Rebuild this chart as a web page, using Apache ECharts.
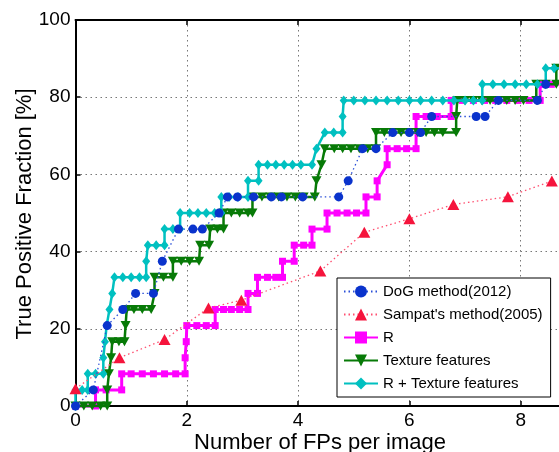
<!DOCTYPE html>
<html>
<head>
<meta charset="utf-8">
<script src="https://cdn.jsdelivr.net/npm/echarts@6/dist/echarts.min.js"></script>
<style>
html,body{margin:0;padding:0;background:#fff;}
#chart{width:559px;height:452px;}
</style>
</head>
<body>
<div id="chart"></div>
<script>
// ---- data ----
const xTicks = [0, 2, 4, 6, 8];
const yTicks = [0, 20, 40, 60, 80, 100];
const seriesNames = ['DoG method(2012)', "Sampat's method(2005)", 'R', 'Texture features', 'R + Texture features'];

const dogPoints = [[0,0],[0.32,4.17],[0.57,20.83],[0.85,25],[1.08,29.17],[1.4,29.17],[1.56,37.5],[1.85,45.83],[2.11,45.83],[2.28,45.83],[2.58,50],[2.73,54.17],[2.91,54.17],[3.2,54.17],[3.52,54.17],[3.7,54.17],[4.08,54.17],[4.73,54.17],[4.9,58.33],[5.16,66.67],[5.4,66.67],[5.7,70.83],[6.0,70.83],[6.2,70.83],[6.4,75],[7.2,75],[7.36,75],[7.6,79.17],[8.3,79.17],[8.45,83.33]];

const sampatPoints = [[0,4.5],[0.79,12.5],[1.6,17.2],[2.39,25.4],[2.98,27.4],[4.4,35],[5.19,45],[6,48.5],[6.79,52.2],[7.77,54.2],[8.56,58.3]];

const rPoints = [[0,0],[0.36,0],[0.36,4.17],[0.55,4.17],[0.83,4.17],[0.83,8.33],[1.0,8.33],[1.2,8.33],[1.4,8.33],[1.6,8.33],[1.8,8.33],[1.97,8.33],[1.97,12.5],[1.99,16.67],[2.0,20.83],[2.18,20.83],[2.35,20.83],[2.51,20.83],[2.51,25],[2.66,25],[2.8,25],[2.95,25],[3.1,25],[3.1,29.17],[3.27,29.17],[3.27,33.33],[3.45,33.33],[3.6,33.33],[3.72,33.33],[3.72,37.5],[3.93,37.5],[3.93,41.67],[4.1,41.67],[4.25,41.67],[4.25,45.83],[4.52,45.83],[4.52,50],[4.7,50],[4.88,50],[5.05,50],[5.22,50],[5.22,54.17],[5.42,54.17],[5.42,58.33],[5.6,62.5],[5.6,66.67],[5.78,66.67],[5.95,66.67],[6.12,66.67],[6.12,75],[6.3,75],[6.5,75],[6.75,75],[6.75,79.17],[6.95,79.17],[7.15,79.17],[7.35,79.17],[7.55,79.17],[7.75,79.17],[7.95,79.17],[8.15,79.17],[8.35,79.17],[8.35,83.33],[8.55,83.33],[8.75,83.33]];

const texturePoints = [[0,0],[0.15,0],[0.3,0],[0.45,0],[0.57,0],[0.57,4.17],[0.6,8.33],[0.64,12.5],[0.66,16.67],[0.78,16.67],[0.88,16.67],[0.9,20.83],[0.92,25],[1.05,25],[1.2,25],[1.36,25],[1.42,29.17],[1.42,33.33],[1.58,33.33],[1.75,33.33],[1.75,37.5],[1.9,37.5],[2.05,37.5],[2.22,37.5],[2.24,41.67],[2.4,41.67],[2.42,45.83],[2.55,45.83],[2.66,45.83],[2.66,50],[2.8,50],[2.95,50],[3.1,50],[3.18,50],[3.18,54.17],[3.35,54.17],[3.5,54.17],[3.65,54.17],[3.8,54.17],[3.95,54.17],[4.1,54.17],[4.3,54.17],[4.33,58.33],[4.42,62.5],[4.48,66.67],[4.65,66.67],[4.8,66.67],[4.95,66.67],[5.1,66.67],[5.25,66.67],[5.4,66.67],[5.4,70.83],[5.55,70.83],[5.7,70.83],[5.85,70.83],[6.0,70.83],[6.15,70.83],[6.3,70.83],[6.45,70.83],[6.6,70.83],[6.84,70.83],[6.84,75],[6.86,79.17],[7.0,79.17],[7.15,79.17],[7.3,79.17],[7.45,79.17],[7.6,79.17],[7.75,79.17],[7.9,79.17],[8.05,79.17],[8.28,79.17],[8.28,83.33],[8.45,83.33],[8.64,83.33],[8.64,87.5],[8.8,87.5]];

const rTexturePoints = [[0,0],[0,4.17],[0.12,4.17],[0.22,4.17],[0.22,8.33],[0.36,8.33],[0.5,8.33],[0.5,12.5],[0.53,16.67],[0.56,20.83],[0.61,25],[0.66,29.17],[0.7,33.33],[0.85,33.33],[1.0,33.33],[1.15,33.33],[1.27,33.33],[1.27,37.5],[1.3,41.67],[1.45,41.67],[1.6,41.67],[1.6,45.83],[1.75,45.83],[1.88,45.83],[1.88,50],[2.05,50],[2.2,50],[2.35,50],[2.5,50],[2.62,50],[2.62,54.17],[2.76,54.17],[2.92,54.17],[3.1,54.17],[3.1,58.33],[3.29,58.33],[3.29,62.5],[3.45,62.5],[3.6,62.5],[3.75,62.5],[3.9,62.5],[4.05,62.5],[4.25,62.5],[4.33,66.67],[4.48,70.83],[4.64,70.83],[4.8,70.83],[4.8,75],[4.82,79.17],[5.0,79.17],[5.2,79.17],[5.4,79.17],[5.6,79.17],[5.8,79.17],[6.0,79.17],[6.2,79.17],[6.4,79.17],[6.6,79.17],[6.8,79.17],[7.0,79.17],[7.15,79.17],[7.31,79.17],[7.31,83.33],[7.5,83.33],[7.7,83.33],[7.9,83.33],[8.1,83.33],[8.3,83.33],[8.45,83.33],[8.45,87.5],[8.6,87.5],[8.75,87.5]];

// ---- chart ----
const FONT = '"Liberation Sans", Arial, Helvetica, sans-serif';
const chart = echarts.init(document.getElementById('chart'), null, {renderer: 'canvas'});

const axisCommon = {
  min: 0,
  axisLine: {show: true, lineStyle: {color: '#000', width: 2}},
  axisTick: {show: true, inside: true, length: 5, lineStyle: {color: '#000', width: 1.5}},
};

const option = {
  animation: false,
  backgroundColor: '#fff',
  textStyle: {fontFamily: FONT},
  grid: {left: 75.5, top: 20, height: 386, width: 556.5, containLabel: false, outerBoundsMode: 'none'},
  xAxis: [
    Object.assign({}, axisCommon, {
      type: 'value', position: 'bottom', max: 10, interval: xTicks[1] - xTicks[0],
      axisLabel: {show: true, color: '#000', fontSize: 19, fontFamily: FONT, margin: 5,
        formatter: v => (xTicks.indexOf(v) >= 0 ? String(v) : '')},
      splitLine: {show: true, lineStyle: {color: '#777', type: [1.5, 3.5], width: 1}}
    }),
    Object.assign({}, axisCommon, {
      type: 'value', position: 'top', max: 10, interval: xTicks[1] - xTicks[0],
      axisLabel: {show: false}, splitLine: {show: false}
    })
  ],
  yAxis: [
    Object.assign({}, axisCommon, {
      type: 'value', position: 'left', max: 100, interval: yTicks[1] - yTicks[0],
      axisLabel: {show: true, color: '#000', fontSize: 19, fontFamily: FONT, margin: 5},
      splitLine: {show: true, lineStyle: {color: '#777', type: [1.5, 3.5], width: 1}}
    })
  ],
  legend: {
    orient: 'vertical', left: 337, top: 278,
    padding: [6, 8, 6, 6], itemGap: 8, itemWidth: 34, itemHeight: 15,
    backgroundColor: '#fff', borderColor: '#000', borderWidth: 1, borderRadius: 0,
    textStyle: {fontSize: 15, color: '#000', fontFamily: FONT},
    data: seriesNames
  },
  graphic: [
    {type: 'text', x: 320, y: 443, style: {text: 'Number of FPs per image', font: '22px ' + FONT, fill: '#000', align: 'center', verticalAlign: 'middle'}},
    {type: 'text', x: 25, y: 214, rotation: Math.PI / 2, style: {text: 'True Positive Fraction [%]', font: '22px ' + FONT, fill: '#000', align: 'center', verticalAlign: 'middle'}}
  ],
  series: [
    {
      name: seriesNames[0], type: 'line', data: dogPoints, clip: false,
      symbol: 'circle', symbolSize: 9, showAllSymbol: true,
      lineStyle: {color: '#2a4fd8', width: 1.3, type: [1.5, 3]},
      itemStyle: {color: '#0a33cc'}, emphasis: {disabled: true}, z: 6
    },
    {
      name: seriesNames[1], type: 'line', data: sampatPoints, clip: false,
      symbol: 'triangle', symbolSize: [12, 11], showAllSymbol: true,
      lineStyle: {color: '#ff4f70', width: 1.3, type: [1.5, 3]},
      itemStyle: {color: '#f5143c'}, emphasis: {disabled: true}, z: 5
    },
    {
      name: seriesNames[2], type: 'line', data: rPoints, clip: false,
      symbol: 'rect', symbolSize: 7, showAllSymbol: true,
      lineStyle: {color: '#ff00ff', width: 3},
      itemStyle: {color: '#ff00ff'}, emphasis: {disabled: true}, z: 2
    },
    {
      name: seriesNames[3], type: 'line', data: texturePoints, clip: false,
      symbol: 'triangle', symbolRotate: 180, symbolSize: [10, 9], showAllSymbol: true,
      lineStyle: {color: '#077a07', width: 2.5},
      itemStyle: {color: '#077a07'}, emphasis: {disabled: true}, z: 3
    },
    {
      name: seriesNames[4], type: 'line', data: rTexturePoints, clip: false,
      symbol: 'diamond', symbolSize: [8, 10], showAllSymbol: true,
      lineStyle: {color: '#00c0c0', width: 2.5},
      itemStyle: {color: '#00c0c0'}, emphasis: {disabled: true}, z: 4
    }
  ]
};
chart.setOption(option);
</script>
</body>
</html>
